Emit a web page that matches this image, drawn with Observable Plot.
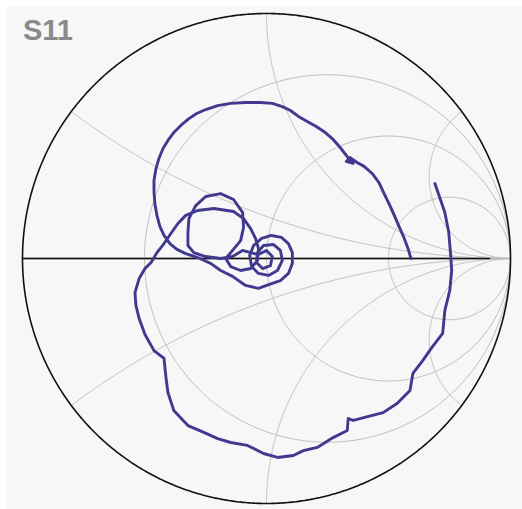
<!DOCTYPE html>
<html>
<head>
<meta charset="utf-8">
<script src="https://cdn.jsdelivr.net/npm/d3@7"></script>
<script src="https://cdn.jsdelivr.net/npm/@observablehq/plot@0.6"></script>
<style>
  html, body { margin: 0; padding: 0; background: #ffffff; }
  #wrap { position: relative; width: 522px; height: 509px; overflow: hidden; }
  #chart { position: absolute; left: 6px; top: 6px; }
  #chart svg { background: #f7f7f7; display: block; }
  #title { position: absolute; left: 23px; top: 16px; font: bold 29px "Liberation Sans", Arial, sans-serif; line-height: 29px; color: #8a8a8a; }
</style>
</head>
<body>
<div id="wrap">
  <div id="chart"></div>
  <div id="title">S11</div>
</div>
<script>
// Smith chart grid values
const rGrid = [1/3, 1, 3];
const xGrid = [1/3, 1, 3, -1/3, -1, -3];

const s11Re = [0.592,0.580,0.563,0.543,0.522,0.502,0.482,0.461,0.433,0.400,0.371,0.343,0.327,0.355,0.331,0.302,0.273,0.241,0.204,0.167,0.131,0.098,0.065,0.024,-0.024,-0.086,-0.147,-0.200,-0.249,-0.286,-0.318,-0.351,-0.380,-0.404,-0.424,-0.441,-0.453,-0.461,-0.461,-0.457,-0.449,-0.437,-0.420,-0.396,-0.367,-0.331,-0.282,-0.229,-0.188,-0.139,-0.086,-0.033,0.012,0.057,0.090,0.106,0.106,0.090,0.061,0.020,-0.020,-0.053,-0.069,-0.061,-0.033,0.008,0.045,0.065,0.057,0.029,-0.012,-0.037,-0.041,-0.016,0.016,0.024,0.000,-0.033,-0.065,-0.098,-0.139,-0.188,-0.249,-0.298,-0.322,-0.322,-0.318,-0.290,-0.249,-0.188,-0.135,-0.098,-0.094,-0.106,-0.139,-0.167,-0.147,-0.106,-0.065,-0.037,-0.033,-0.045,-0.065,-0.094,-0.135,-0.216,-0.282,-0.331,-0.363,-0.392,-0.420,-0.449,-0.473,-0.498,-0.522,-0.539,-0.535,-0.522,-0.498,-0.461,-0.420,-0.412,-0.404,-0.380,-0.322,-0.257,-0.200,-0.147,-0.078,-0.012,0.045,0.110,0.151,0.208,0.273,0.331,0.335,0.355,0.478,0.535,0.588,0.600,0.641,0.678,0.722,0.731,0.751,0.759,0.755,0.747,0.731,0.710,0.690];
const s11Im = [0.000,0.041,0.086,0.131,0.180,0.224,0.265,0.310,0.347,0.376,0.392,0.412,0.396,0.388,0.416,0.453,0.486,0.514,0.539,0.559,0.580,0.604,0.620,0.633,0.637,0.637,0.633,0.624,0.608,0.592,0.571,0.543,0.514,0.482,0.449,0.408,0.367,0.318,0.269,0.220,0.176,0.131,0.094,0.061,0.037,0.020,0.004,-0.020,-0.049,-0.073,-0.110,-0.122,-0.106,-0.090,-0.061,-0.020,0.024,0.061,0.086,0.094,0.082,0.053,0.012,-0.033,-0.061,-0.069,-0.049,-0.008,0.033,0.057,0.053,0.024,-0.016,-0.041,-0.029,0.008,0.033,0.016,0.024,0.033,0.008,0.000,0.008,0.024,0.053,0.106,0.163,0.216,0.253,0.265,0.241,0.188,0.127,0.073,0.033,0.000,-0.033,-0.049,-0.041,-0.008,0.041,0.082,0.122,0.163,0.192,0.204,0.196,0.176,0.143,0.102,0.061,0.024,-0.016,-0.041,-0.082,-0.139,-0.192,-0.245,-0.310,-0.376,-0.408,-0.486,-0.547,-0.620,-0.682,-0.710,-0.735,-0.751,-0.763,-0.796,-0.812,-0.804,-0.784,-0.771,-0.731,-0.702,-0.653,-0.661,-0.629,-0.592,-0.539,-0.469,-0.416,-0.363,-0.306,-0.212,-0.131,-0.049,0.012,0.106,0.188,0.249,0.306];

const trace = s11Re.map((re, i) => ({re, im: s11Im[i]}));

// Gamma from normalized impedance z = r + jx
function gamma(r, x) {
  const D = (r + 1) * (r + 1) + x * x;
  return {re: (r * r + x * x - 1) / D, im: (2 * x) / D};
}

// constant-resistance circles
const rLines = [];
rGrid.forEach((r, k) => {
  for (let i = 0; i <= 720; i++) {
    const th = -Math.PI / 2 + (Math.PI * i) / 720;
    const x = Math.tan(Math.max(-1.5703, Math.min(1.5703, th)));
    rLines.push({...gamma(r, x), id: "r" + k});
  }
});
// constant-reactance arcs
const xLines = [];
xGrid.forEach((xv, k) => {
  for (let i = 0; i <= 600; i++) {
    const t = i / 600;
    const r = t >= 0.9999 ? 1e4 : t / (1 - t);
    xLines.push({...gamma(r, xv), id: "x" + k});
  }
});
// outer unit circle
const unit = d3.range(0, 721).map(i => ({re: Math.cos(i * Math.PI / 360), im: Math.sin(i * Math.PI / 360)}));

const plot = Plot.plot({
  width: 516,
  height: 503,
  marginLeft: 16,
  marginRight: 12,
  marginTop: 7,
  marginBottom: 6,
  x: {domain: [-1, 1], axis: null},
  y: {domain: [-1, 1], axis: null},
  style: {background: "#f7f7f7"},
  marks: [
    Plot.line(rLines, {x: "re", y: "im", z: "id", stroke: "#bcbcbc", strokeWidth: 1}),
    Plot.line(xLines, {x: "re", y: "im", z: "id", stroke: "#bcbcbc", strokeWidth: 1}),
    Plot.line([{re: -1, im: 0}, {re: 1, im: 0}], {x: "re", y: "im", stroke: "#bcbcbc", strokeWidth: 2}),
    Plot.line([{re: -1, im: 0}, {re: 0.914, im: 0}], {x: "re", y: "im", stroke: "#111", strokeWidth: 1.5}),
    Plot.line(unit, {x: "re", y: "im", stroke: "#111", strokeWidth: 1.6}),
    Plot.line(trace, {x: "re", y: "im", stroke: "#41398f", strokeWidth: 2.9, strokeLinejoin: "round", strokeLinecap: "round"})
  ]
});
document.getElementById("chart").appendChild(plot);
</script>
</body>
</html>
